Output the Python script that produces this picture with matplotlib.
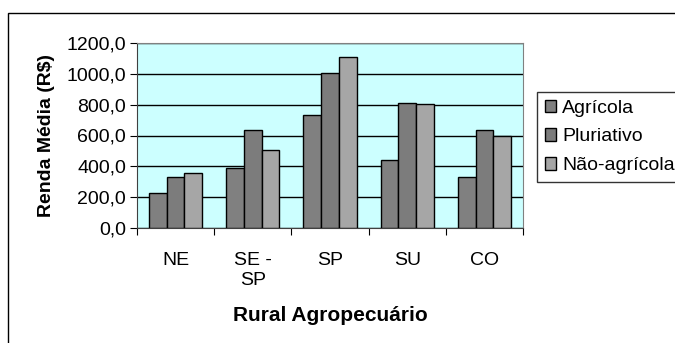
import numpy as np
import matplotlib
matplotlib.use("Agg")
import matplotlib.pyplot as plt
from matplotlib.patches import Rectangle

# data
regions = ["NE", "SE -\nSP", "SP", "SU", "CO"]
agricola = [229, 387, 735, 440, 330]
pluriativo = [333, 636, 1008, 810, 636]
nao_agricola = [356, 508, 1108, 806, 597]
series_names = ["Agrícola", "Pluriativo", "Não-agrícola"]
colors = ["#808080", "#7c7c7c", "#a6a6a6"]

plt.rcParams["font.family"] = ["Liberation Sans", "DejaVu Sans"]
FS = 14

W, H = 675, 343
fig = plt.figure(figsize=(W / 100, H / 100), dpi=100)

# outer chart frame (cut off at right and bottom like the reference)
fig.patches.append(Rectangle((8 / W, -0.1), 1.2, (H - 13) / H + 0.1,
                             transform=fig.transFigure, fill=False,
                             edgecolor="black", linewidth=1.0))

left, right, top, bottom = 137, 523, 43, 228
ax = fig.add_axes([left / W, 1 - bottom / H, (right - left) / W, (bottom - top) / H])
ax.set_facecolor("#ccffff")

x = np.arange(len(regions))
bw = 0.229
for i, vals in enumerate([agricola, pluriativo, nao_agricola]):
    ax.bar(x + (i - 1) * bw, vals, bw, color=colors[i], edgecolor="black",
           linewidth=1.0, label=series_names[i], zorder=3)

ax.set_xlim(-0.5, len(regions) - 0.5)
ax.set_ylim(0, 1200)
ax.set_yticks(np.arange(0, 1201, 200))
ax.set_yticklabels([f"{v:.1f}".replace(".", ",") for v in np.arange(0, 1201, 200)],
                   fontsize=FS)
ax.yaxis.grid(True, color="black", linewidth=1.0, zorder=1)
ax.set_axisbelow(True)

ax.set_xticks(np.arange(-0.5, len(regions), 1.0))
ax.set_xticklabels([])
ax.set_xticks(x, minor=True)
ax.set_xticklabels(regions, minor=True, fontsize=FS, va="top", ha="center",
                   linespacing=1.25)
ax.tick_params(axis="x", which="minor", length=0, pad=17)
ax.tick_params(axis="x", which="major", length=5, direction="out", color="black")
ax.tick_params(axis="y", length=5, direction="out", color="black", pad=3)

for s in ["top", "right"]:
    ax.spines[s].set_color("#808080")
ax.spines["left"].set_color("#404040")
ax.spines["bottom"].set_color("#404040")

ax.set_xlabel("Rural Agropecuário", fontsize=15, fontweight="bold", labelpad=12)
ax.set_ylabel("Renda Média (R$)", fontsize=FS, fontweight="bold", labelpad=8)

leg = ax.legend(loc="upper left", bbox_to_anchor=(537 / W, 1 - 92 / H),
                bbox_transform=fig.transFigure, frameon=True, fancybox=False,
                edgecolor="black", fontsize=FS, handlelength=0.6,
                handleheight=0.6, handletextpad=0.3, borderpad=0.4,
                labelspacing=0.6, borderaxespad=0)
leg.get_frame().set_linewidth(1.0)

fig.savefig("out.png", dpi=100)
